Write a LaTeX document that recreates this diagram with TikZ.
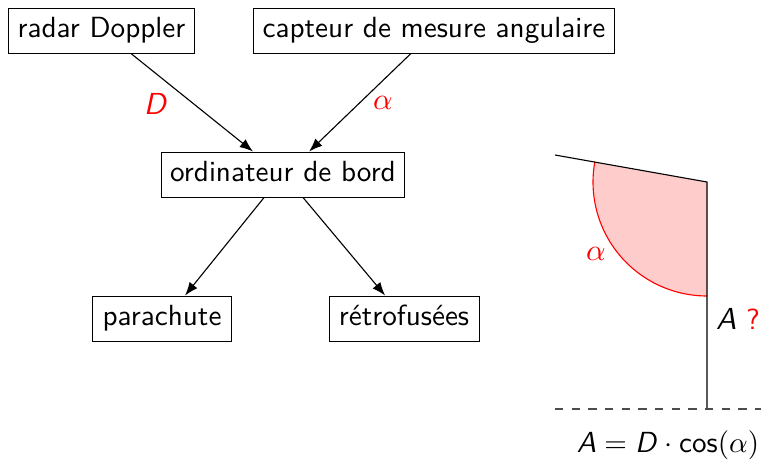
\documentclass[tikz,border=0pt]{standalone}
\usepackage{amsmath,amssymb}
\usepackage{tikz}
\usetikzlibrary{arrows.meta}
\renewcommand{\familydefault}{\sfdefault}
\DeclareMathAlphabet{\mathsfit}{OT1}{cmss}{m}{sl}
\definecolor{softred}{RGB}{255,204,204}
\tikzset{
  every node/.style={font=\fontsize{10.5}{12.6}\selectfont},
  flow/.style={rectangle,draw=black,line width=0.35pt,align=center,inner sep=0pt,minimum height=16.2pt,text height=7pt,text depth=2pt},
  edge/.style={-{Latex[length=4.8pt,width=3.6pt]},thin},
  redlabel/.style={text=red,inner sep=0pt}
}
\begin{document}
\begin{tikzpicture}[x=0.36pt,y=-0.36pt]
  \useasboundingbox (0,0) rectangle (761,461);
  \node[flow,minimum width=67.3pt] (radar) at (101.5,30.5) {radar Doppler};
  \node[flow,minimum width=130.3pt] (capteur) at (434,30.5) {capteur de mesure angulaire};
  \node[flow,minimum width=87.8pt] (ordi) at (283,174.5) {ordinateur de bord};
  \node[flow,minimum width=49.7pt] (para) at (162,318.5) {parachute};
  \node[flow,minimum width=54pt] (retro) at (404,318.5) {rétrofusées};
  \draw[edge] ([xshift=10.6pt]radar.south) -- ([xshift=-10.8pt]ordi.north);
  \draw[edge] ([xshift=-8.3pt]capteur.south) -- ([xshift=9.4pt]ordi.north);
  \draw[edge] ([xshift=-6.8pt]ordi.south) -- ([xshift=8.3pt]para.north);
  \draw[edge] ([xshift=7.2pt]ordi.south) -- ([xshift=-6.8pt]retro.north);
  \node[redlabel] (labD) at (156,104) {$\mathsfit{D}$};
  \node[redlabel] (labalpha) at (383,103) {$\alpha$};
  % angle
  \coordinate (top) at (707,182);
  \coordinate (left) at (555,155);
  \coordinate (foot) at (707,409);
  \fill[softred] (top) -- (707,296) arc[start angle=90,end angle=190,radius=114] -- cycle;
  \draw[red] (707,296) arc[start angle=90,end angle=190,radius=114];
  \draw (left) -- (top) -- (foot);
  \draw[dashed,black!70] (555,409) -- (761,409);
  \node[redlabel] (labangle) at (596,254) {$\alpha$};
  \node[inner sep=0pt] (labA) at (738,319) {$\mathsfit{A}$ \textcolor{red}{?}};
  \node[inner sep=0pt,font=\fontsize{10}{12}\selectfont] (formule) at (668,445) {\scalebox{1.046}{$\mathsfit{A}=\mathsfit{D}\cdot\mathsf{cos}(\alpha)$}};
\end{tikzpicture}
\end{document}
